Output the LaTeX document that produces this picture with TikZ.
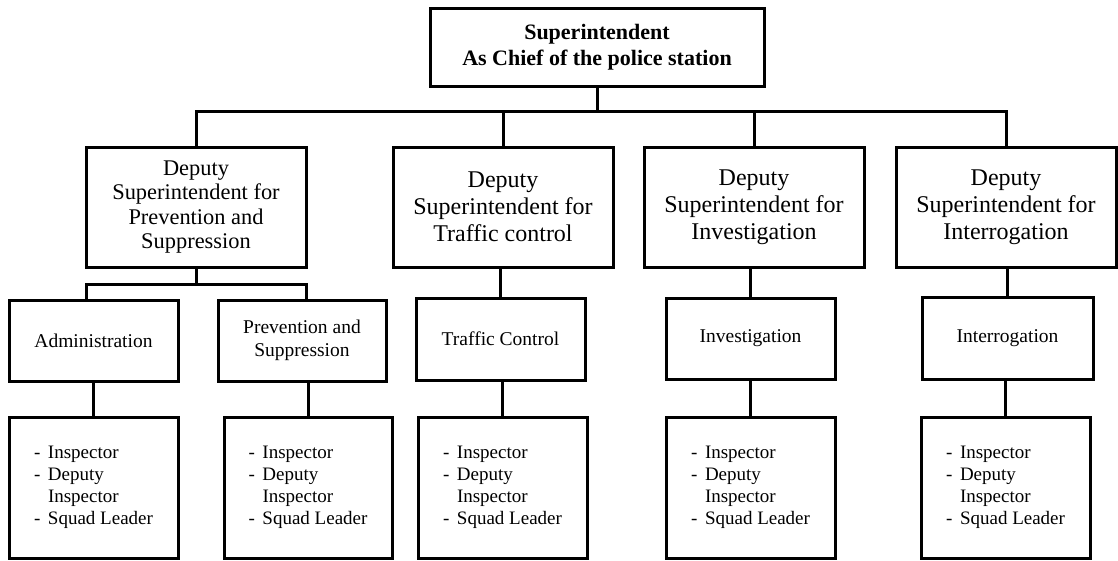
\documentclass[tikz,border=0pt]{standalone}
\usepackage{fontspec}
\setmainfont{Liberation Serif}
\newcommand{\dashitem}[1]{\makebox[14pt][l]{-}#1}
\newcommand{\contline}[1]{\hspace*{14pt}#1}
\begin{document}
\begin{tikzpicture}[x=1pt,y=-1pt,
  box/.style={draw, line width=3pt, inner sep=0pt, align=center},
  chiefbox/.style={box, minimum width=334pt, minimum height=78pt,
    font=\fontsize{22}{26}\selectfont\bfseries},
  deputybox/.style={box, minimum width=220pt, minimum height=120pt,
    font=\fontsize{24}{27}\selectfont},
  unitbox/.style={box, minimum width=169pt, minimum height=81pt,
    font=\fontsize{19.5}{23}\selectfont},
  rankbox/.style={box, align=left, minimum width=169pt, minimum height=141pt,
    font=\fontsize{19}{22}\selectfont},
  link/.style={draw, line width=3pt}]
\useasboundingbox (0,0) rectangle (1118,560);

% head of the station
\node[chiefbox] (chief) at (597,47) {Superintendent\\As Chief of the police station};

% deputy superintendents
\node[deputybox, font=\fontsize{22.4}{24.3}\selectfont] (dep1) at (196,207)
  {Deputy\\Superintendent for\\Prevention and\\Suppression};
\node[deputybox] (dep2) at (503,207) {Deputy\\Superintendent for\\Traffic control};
\node[deputybox] (dep3) at (754,207) {Deputy\\Superintendent for\\Investigation};
\node[deputybox] (dep4) at (1006,207) {Deputy\\Superintendent for\\Interrogation};

% units
\node[unitbox] (admin) at (93.5,340.5) {Administration};
\node[unitbox, minimum width=168pt] (prev) at (302,340.5) {Prevention and\\Suppression};
\node[unitbox, minimum height=82pt] (traffic) at (500.5,339) {Traffic Control};
\node[unitbox] (invest) at (750.5,338.5) {Investigation};
\node[unitbox, minimum width=171pt, minimum height=82pt] (interr) at (1007.5,338) {Interrogation};

% ranks in each unit
\node[rankbox] (r1) at (93.5,487.5)
  {\dashitem{Inspector}\\\dashitem{Deputy}\\\contline{Inspector}\\\dashitem{Squad Leader}};
\node[rankbox, minimum width=168pt] (r2) at (308,487.5)
  {\dashitem{Inspector}\\\dashitem{Deputy}\\\contline{Inspector}\\\dashitem{Squad Leader}};
\node[rankbox] (r3) at (502.5,487.5)
  {\dashitem{Inspector}\\\dashitem{Deputy}\\\contline{Inspector}\\\dashitem{Squad Leader}};
\node[rankbox] (r4) at (750.5,487.5)
  {\dashitem{Inspector}\\\dashitem{Deputy}\\\contline{Inspector}\\\dashitem{Squad Leader}};
\node[rankbox] (r5) at (1005.5,487.5)
  {\dashitem{Inspector}\\\dashitem{Deputy}\\\contline{Inspector}\\\dashitem{Squad Leader}};

% top-level bus
\coordinate (bus) at (597,111);
\draw[link] (chief.south) -- (bus);
\draw[link] (dep1.north) |- (bus) -| (dep4.north);
\draw[link] (dep2.north) -- (dep2.north |- bus);
\draw[link] (dep3.north) -- (dep3.north |- bus);

% prevention branch splits in two
\coordinate (split) at (196,284);
\draw[link] (dep1.south) -- (split);
\draw[link] ([xshift=-7.5pt]admin.north) |- (split) -| ([xshift=4pt]prev.north);

% other deputies to their units
\draw[link] (traffic.north) -- (traffic.north |- dep2.south);
\draw[link] (invest.north) -- (invest.north |- dep3.south);
\draw[link] (interr.north) -- (interr.north |- dep4.south);

% units to ranks
\draw[link] (r1.north) -- (r1.north |- admin.south);
\draw[link] (r2.north) -- (r2.north |- prev.south);
\draw[link] (r3.north) -- (r3.north |- traffic.south);
\draw[link] (r4.north) -- (r4.north |- invest.south);
\draw[link] (r5.north) -- (r5.north |- interr.south);
\end{tikzpicture}
\end{document}
